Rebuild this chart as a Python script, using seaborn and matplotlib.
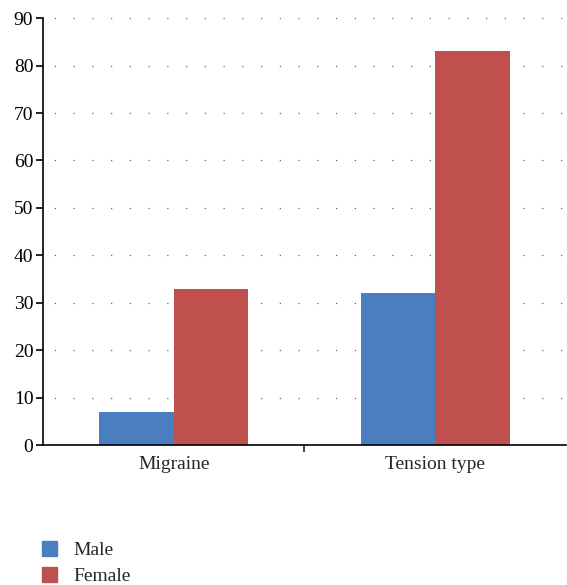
import matplotlib.pyplot as plt
import seaborn as sns
import pandas as pd

categories = ['Migraine', 'Tension type']
male = [7, 32]
female = [33, 83]
series = ['Male', 'Female']
yticks = [0, 10, 20, 30, 40, 50, 60, 70, 80, 90]

df = pd.DataFrame({
    'category': categories * 2,
    'sex': ['Male'] * len(categories) + ['Female'] * len(categories),
    'value': male + female,
})

sns.set_style('white')
plt.rcParams['font.family'] = ['Liberation Serif', 'DejaVu Serif']

fig = plt.figure(figsize=(5.67, 5.85), dpi=100)
ax = fig.add_axes([0.076, 0.239, 0.922, 0.730])

palette = {'Male': '#4a7ebf', 'Female': '#c0504d'}
sns.barplot(data=df, x='category', y='value', hue='sex', hue_order=series,
            palette=palette, width=0.57, saturation=1, ax=ax, legend=False,
            linewidth=0)

ax.set_ylim(0, 90)
ax.set_xlim(-0.5, 1.5)
ax.set_yticks(yticks)
ax.set_xticks([0, 1])
ax.set_xticklabels(categories)
ax.set_xlabel('')
ax.set_ylabel('')
ax.yaxis.grid(True, color='#666666', linestyle=(6, (1, 14)), linewidth=0.9)
ax.set_axisbelow(True)

for s in ['top', 'right']:
    ax.spines[s].set_visible(False)
for s in ['left', 'bottom']:
    ax.spines[s].set_color('black')
    ax.spines[s].set_linewidth(1.2)

ax.tick_params(axis='y', which='both', left=True, length=5, width=1.2,
               labelsize=14, pad=2, colors='black')
ax.tick_params(axis='x', which='major', bottom=False, labelsize=14, pad=4)
ax.set_xticks([0.5], minor=True)
ax.tick_params(axis='x', which='minor', bottom=True, length=5, width=1.2)

handles = [plt.Rectangle((0, 0), 1, 1, color=palette[s]) for s in series]
fig.legend(handles, series, loc='lower left', bbox_to_anchor=(0.043, -0.03),
           frameon=False, fontsize=14, handlelength=0.8, handleheight=0.8,
           handletextpad=0.8, labelspacing=0.4)

fig.savefig('out.png', dpi=100)
